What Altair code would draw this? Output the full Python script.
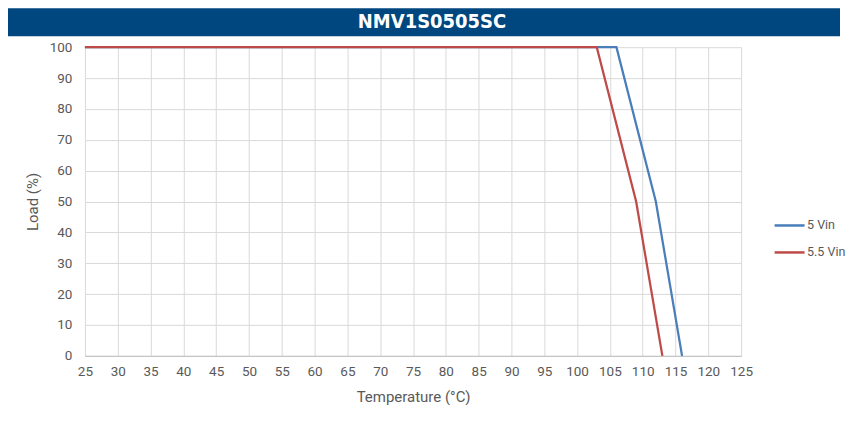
import altair as alt
import pandas as pd

title_text = "NMV1S0505SC"
series_names = ["5 Vin", "5.5 Vin"]
temp_5vin = [25, 106, 112, 116]
load_5vin = [100, 100, 50, 0]
temp_55vin = [25, 103, 109, 113]
load_55vin = [100, 100, 50, 0]
x_ticks = list(range(25, 126, 5))
y_ticks = list(range(0, 101, 10))

rows = []
for t, l in zip(temp_5vin, load_5vin):
    rows.append({"Temperature": t, "Load": l, "Series": series_names[0]})
for t, l in zip(temp_55vin, load_55vin):
    rows.append({"Temperature": t, "Load": l, "Series": series_names[1]})
df = pd.DataFrame(rows)

FONT = "Roboto"
GRAY = "#595959"

lines = alt.Chart(df).mark_line(strokeWidth=2.25).encode(
    x=alt.X("Temperature:Q",
            scale=alt.Scale(domain=[25, 125], nice=False),
            axis=alt.Axis(values=x_ticks, title="Temperature (°C)", grid=True,
                          gridColor="#d9d9d9", ticks=False, domainColor="#bfbfbf",
                          labelColor=GRAY, labelFontSize=13.5, labelFont=FONT,
                          labelPadding=9, labelFlush=False, labelOverlap=False,
                          titleColor=GRAY, titleFont=FONT,
                          titleFontSize=15, titleFontWeight="normal",
                          titlePadding=11)),
    y=alt.Y("Load:Q",
            scale=alt.Scale(domain=[0, 100], nice=False),
            axis=alt.Axis(values=y_ticks, title="Load (%)", grid=True,
                          gridColor="#d9d9d9", ticks=False, domain=False,
                          labelColor=GRAY, labelFontSize=13.5, labelFont=FONT,
                          labelPadding=13, labelFlush=False, labelOverlap=False,
                          titleColor=GRAY, titleFont=FONT,
                          titleFontSize=15, titleFontWeight="normal",
                          titlePadding=9)),
    color=alt.Color("Series:N",
                    scale=alt.Scale(domain=series_names, range=["#4a7ebb", "#be4b48"]),
                    sort=series_names,
                    legend=alt.Legend(title=None, orient="none", legendX=689, legendY=162,
                                      symbolType="stroke", symbolSize=900,
                                      symbolStrokeWidth=2.5, labelFont=FONT,
                                      labelFontSize=12.5, labelColor=GRAY,
                                      labelOffset=1, rowPadding=4, padding=0)),
    order=alt.Order("Temperature:Q"),
)

hdr_df = pd.DataFrame({"t": [title_text]})
header_rect = alt.Chart(hdr_df).mark_rect(color="#00467f").encode(
    x=alt.value(-77), x2=alt.value(756), y=alt.value(-39), y2=alt.value(-11)
)
header_text = alt.Chart(hdr_df).mark_text(
    color="white",
    font="'Liberation Sans Narrow', 'DejaVu Sans Condensed', 'Arial Narrow', Roboto, sans-serif",
    fontWeight="bold", fontSize=20, align="center", baseline="middle"
).encode(x=alt.value(347.5), y=alt.value(-25), text="t:N")

chart = alt.layer(header_rect, header_text, lines).properties(
    width=657, height=309, padding=0, background="white"
).configure_view(stroke=None)

chart.save("out.html", embed_options={"renderer": "svg", "actions": False})
